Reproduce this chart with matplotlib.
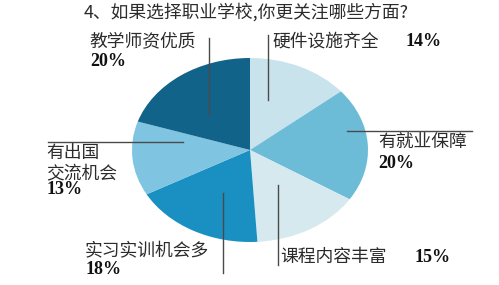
import matplotlib
matplotlib.use("Agg")
import matplotlib.pyplot as plt

plt.rcParams['font.family'] = ['Noto Sans CJK SC', 'DejaVu Sans']

# Survey answers, clockwise from 12 o'clock
categories = ['硬件设施齐全', '有就业保障', '课程内容丰富', '实习实训机会多', '有出国\n交流机会', '教学师资优质']
shares = [14, 20, 15, 18, 13, 20]
colors = ['#c9e3ed', '#6dbcd7', '#d6e9ef', '#1a8fc1', '#7fc4e1', '#116389']
title = '4、如果选择职业学校,你更关注哪些方面?'

W, H = 499, 285
fig = plt.figure(figsize=(W / 100, H / 100), dpi=100)
fig.patch.set_facecolor('white')

# Elliptical pie: centre (250,150) px, semi-axes 118 x 92 px
cx, cy, rx, ry = 250, 150, 118, 92
ax = fig.add_axes([(cx - rx) / W, (H - cy - ry) / H, 2 * rx / W, 2 * ry / H])
ax.pie(shares, colors=colors, startangle=90, counterclock=False,
       radius=1, wedgeprops=dict(linewidth=0))
ax.set_aspect('auto')
ax.set_xlim(-1, 1)
ax.set_ylim(-1, 1)
ax.axis('off')


def d(px, py):
    """Pixel position -> pie data coordinates."""
    return (px - cx) / rx, (cy - py) / ry


# Leader lines (pixel endpoints) per slice
leaders = [
    ((268, 35), (268, 100)),
    ((347, 131), (472, 131)),
    ((278, 185), (278, 265)),
    ((223, 193), (223, 273)),
    ((48, 142), (183, 142)),
    ((209, 38), (209, 115)),
]
for (p0, p1) in leaders:
    x0, y0 = d(*p0)
    x1, y1 = d(*p1)
    ax.plot([x0, x1], [y0, y1], color='#4a4a4a', lw=1.0, clip_on=False)

# (name x, name y, pct x, pct y) in pixels, left-aligned, centred vertically
label_pos = [
    (272, 42, 406, 42),
    (378, 143, 378, 163),
    (280, 257, 415, 257),
    (85, 251, 86, 270),
    (46, 163, 47, 190),
    (89, 42, 90, 62),
]

txt_kw = dict(ha='left', va='center', color='#2b2b2b', fontsize=12.8)
pct_kw = dict(ha='left', va='center', color='#111111', fontsize=13,
              family=['Liberation Serif', 'DejaVu Serif'], fontweight='bold')

for name, val, (nx, ny, px_, py_) in zip(categories, shares, label_pos):
    x, y = d(nx, ny)
    ax.text(x, y, name, linespacing=1.15, **txt_kw)
    x, y = d(px_, py_)
    ax.text(x, y, f'{val}%', **pct_kw)

fig.text(246 / W, 1 - 12 / H, title, ha='center', va='center',
         fontsize=12.8, color='#2b2b2b')

fig.savefig('out.png', dpi=100, facecolor='white')
